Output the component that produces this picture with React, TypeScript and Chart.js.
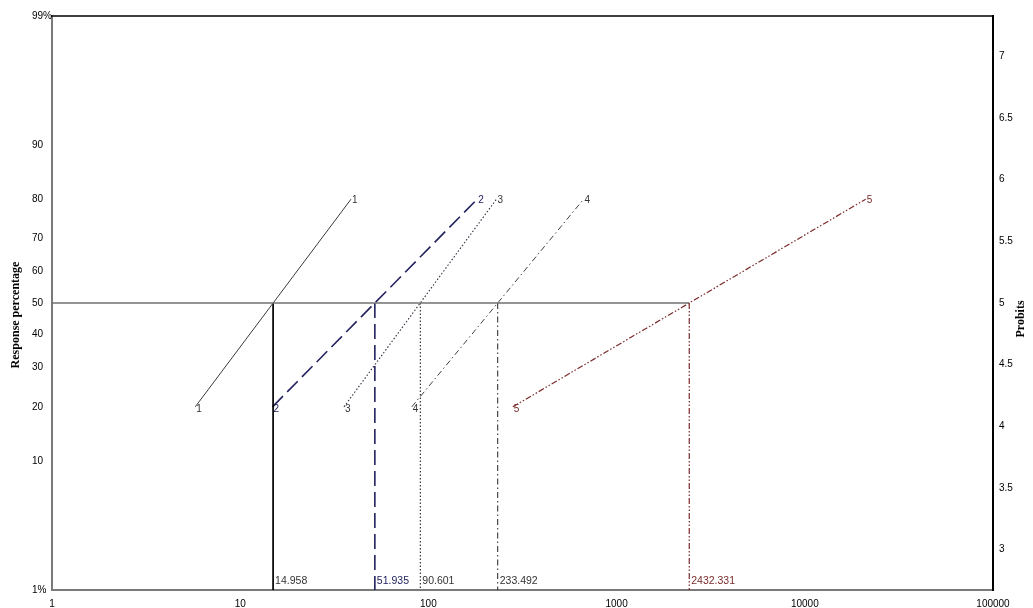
import { useEffect, useRef } from 'react';
import { Chart, registerables } from 'chart.js';

Chart.register(...registerables);

// ---- data ----
const seriesNames = ['1', '2', '3', '4', '5'];
const responseLow = 20;
const responseHigh = 80;
const dose20 = [5.77, 14.84, 35.6, 81.6, 281];
const dose80 = [38.8, 181.7, 230, 668, 21060];
const ld50 = [14.958, 51.935, 90.601, 233.492, 2432.331];
const ld50Labels = ['14.958', '51.935', '90.601', '233.492', '2432.331'];
const percentTicks = [1, 10, 20, 30, 40, 50, 60, 70, 80, 90, 99];
const percentTickLabels = ['1%', '10', '20', '30', '40', '50', '60', '70', '80', '90', '99%'];
const probitTicks = [3, 3.5, 4, 4.5, 5, 5.5, 6, 6.5, 7];
const doseTicks = [1, 10, 100, 1000, 10000, 100000];

// ---- styles ----
const lineColors = ['#3c3c3c', '#22225e', '#3a2a42', '#404040', '#7a2a2a'];
const lineDashes = [[], [15, 6], [1.5, 2], [6, 3, 1.5, 3], [6, 2, 1.5, 2, 1.5, 2]];
const lineWidths = [1, 1.6, 1.1, 1, 1.2];
const dropColors = ['#000000', '#22225e', '#222222', '#222222', '#7a2a2a'];
const labelColors = ['#333333', '#22225e', '#333333', '#333333', '#7a2a2a'];

// inverse standard normal CDF (Acklam), probit = 5 + z
function probit(pct: number): number {
  const p = pct / 100;
  const a = [-3.969683028665376e1, 2.209460984245205e2, -2.759285104469687e2, 1.38357751867269e2, -3.066479806614716e1, 2.506628277459239];
  const b = [-5.447609879822406e1, 1.615858368580409e2, -1.556989798598866e2, 6.680131188771972e1, -1.328068155288572e1];
  const c = [-7.784894002430293e-3, -3.223964580411365e-1, -2.400758277161838, -2.549732539343734, 4.374664141464968, 2.938163982698783];
  const d = [7.784695709041462e-3, 3.224671290700398e-1, 2.445134137142996, 3.754408661907416];
  const pl = 0.02425;
  let z: number;
  if (p < pl) {
    const q = Math.sqrt(-2 * Math.log(p));
    z = (((((c[0] * q + c[1]) * q + c[2]) * q + c[3]) * q + c[4]) * q + c[5]) / ((((d[0] * q + d[1]) * q + d[2]) * q + d[3]) * q + 1);
  } else if (p <= 1 - pl) {
    const q = p - 0.5;
    const r = q * q;
    z = ((((((a[0] * r + a[1]) * r + a[2]) * r + a[3]) * r + a[4]) * r + a[5]) * q) / (((((b[0] * r + b[1]) * r + b[2]) * r + b[3]) * r + b[4]) * r + 1);
  } else {
    const q = Math.sqrt(-2 * Math.log(1 - p));
    z = -(((((c[0] * q + c[1]) * q + c[2]) * q + c[3]) * q + c[4]) * q + c[5]) / ((((d[0] * q + d[1]) * q + d[2]) * q + d[3]) * q + 1);
  }
  return 5 + z;
}

const yMin = probit(1);
const yMax = probit(99);

const overlayPlugin = {
  id: 'overlay',
  afterDraw(chart: any) {
    const { ctx, chartArea } = chart;
    const xs = chart.scales.x;
    const ys = chart.scales.y;
    ctx.save();
    // top frame line
    ctx.strokeStyle = '#000';
    ctx.lineWidth = 1.5;
    ctx.beginPath();
    ctx.moveTo(chartArea.left - 1, chartArea.top);
    ctx.lineTo(chartArea.right + 1, chartArea.top);
    ctx.stroke();

    // series end labels
    ctx.font = '10px "Liberation Sans", Arial, sans-serif';
    ctx.textAlign = 'left';
    ctx.textBaseline = 'middle';
    for (let i = 0; i < seriesNames.length; i++) {
      ctx.fillStyle = labelColors[i];
      const p1x = xs.getPixelForValue(dose20[i]);
      const p1y = ys.getPixelForValue(probit(responseLow));
      const p2x = xs.getPixelForValue(dose80[i]);
      const p2y = ys.getPixelForValue(probit(responseHigh));
      ctx.fillText(seriesNames[i], p1x + 1, p1y + 2);
      ctx.fillText(seriesNames[i], p2x + 1, p2y + 1);
    }

    // LD50 labels
    ctx.font = '10.5px "Liberation Sans", Arial, sans-serif';
    for (let i = 0; i < ld50.length; i++) {
      ctx.fillStyle = labelColors[i];
      ctx.fillText(ld50Labels[i], xs.getPixelForValue(ld50[i]) + 2, chartArea.bottom - 9);
    }

    // axis titles
    ctx.fillStyle = '#000';
    ctx.font = 'bold 12px "Liberation Serif", "Times New Roman", serif';
    ctx.textAlign = 'center';
    ctx.translate(16, 315);
    ctx.rotate(-Math.PI / 2);
    ctx.fillText('Response percentage', 0, 0);
    ctx.restore();

    ctx.save();
    ctx.fillStyle = '#000';
    ctx.font = 'bold 12px "Liberation Serif", "Times New Roman", serif';
    ctx.textAlign = 'center';
    ctx.textBaseline = 'middle';
    ctx.translate(1021, 319);
    ctx.rotate(-Math.PI / 2);
    ctx.fillText('Probits', 0, 0);
    ctx.restore();
  },
};

export default function App() {
  const ref = useRef<HTMLCanvasElement | null>(null);

  useEffect(() => {
    if (!ref.current) return;
    const datasets: any[] = [];
    // 50% reference line
    datasets.push({
      data: [{ x: 1, y: probit(50) }, { x: ld50[4], y: probit(50) }],
      borderColor: '#707070',
      borderWidth: 1.5,
      pointRadius: 0,
    });
    for (let i = 0; i < seriesNames.length; i++) {
      datasets.push({
        label: seriesNames[i],
        data: [
          { x: dose20[i], y: probit(responseLow) },
          { x: dose80[i], y: probit(responseHigh) },
        ],
        borderColor: lineColors[i],
        borderDash: lineDashes[i],
        borderWidth: lineWidths[i],
        pointRadius: 0,
      });
      datasets.push({
        data: [
          { x: ld50[i], y: probit(50) },
          { x: ld50[i], y: yMin },
        ],
        borderColor: dropColors[i],
        borderDash: lineDashes[i],
        borderWidth: lineWidths[i],
        pointRadius: 0,
      });
    }

    const font = { family: '"Liberation Sans", Arial, sans-serif', size: 10 };
    const chart = new Chart(ref.current, {
      type: 'line',
      data: { datasets },
      plugins: [overlayPlugin],
      options: {
        animation: false,
        responsive: true,
        maintainAspectRatio: false,
        layout: { padding: { left: 32, top: 16, right: 0, bottom: 0 } },
        plugins: { legend: { display: false }, tooltip: { enabled: false } },
        scales: {
          x: {
            type: 'logarithmic',
            min: 1,
            max: 100000,
            afterBuildTicks: (s: any) => {
              s.ticks = doseTicks.map((v) => ({ value: v }));
            },
            afterFit: (s: any) => {
              s.height = 18;
            },
            ticks: {
              font,
              color: '#000',
              padding: 8,
              maxRotation: 0,
              autoSkip: false,
              callback: (v: any) => String(v),
            },
            grid: { display: false, drawTicks: false },
            border: { display: true, color: '#7a7a7a', width: 2 },
          },
          y: {
            type: 'linear',
            position: 'left',
            min: yMin,
            max: yMax,
            afterBuildTicks: (s: any) => {
              s.ticks = percentTicks.map((p) => ({ value: probit(p) }));
            },
            afterFit: (s: any) => {
              s.width = 20;
            },
            ticks: {
              font,
              color: '#000',
              crossAlign: 'far',
              autoSkip: false,
              callback: (_v: any, idx: number) => percentTickLabels[idx],
            },
            grid: { display: false, drawTicks: false },
            border: { display: true, color: '#7a7a7a', width: 2 },
          },
          y2: {
            type: 'linear',
            position: 'right',
            min: yMin,
            max: yMax,
            afterBuildTicks: (s: any) => {
              s.ticks = probitTicks.map((v) => ({ value: v }));
            },
            afterFit: (s: any) => {
              s.width = 40;
            },
            ticks: {
              font,
              color: '#000',
              padding: 6,
              autoSkip: false,
              callback: (v: any) => String(v),
            },
            grid: { display: false, drawTicks: false },
            border: { display: true, color: '#000', width: 2 },
          },
        },
      } as any,
    });
    return () => chart.destroy();
  }, []);

  return (
    <div style={{ position: 'absolute', left: 0, top: 0, width: 1033, height: 608, background: '#fff' }}>
      <canvas ref={ref} />
    </div>
  );
}
